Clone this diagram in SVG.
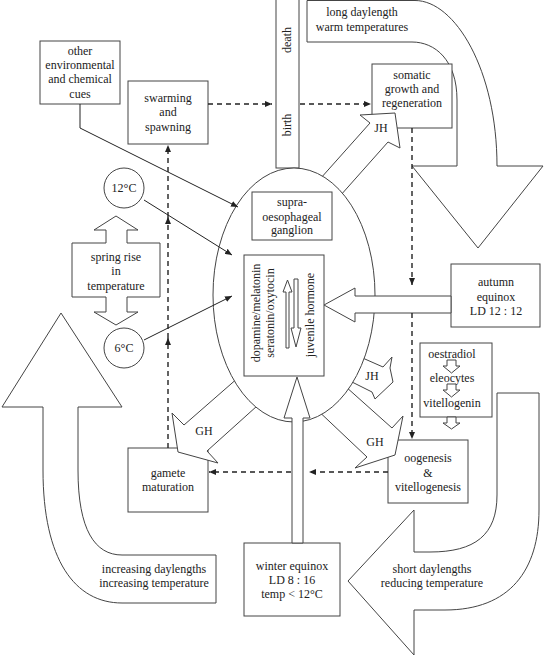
<svg xmlns="http://www.w3.org/2000/svg" width="544" height="656" viewBox="0 0 544 656">
<defs>
<style>
.s{fill:#fff;stroke:#444;stroke-width:1}
.t{font-family:"Liberation Serif","Times New Roman",serif;font-size:12px;fill:#222;text-anchor:middle}
.d{fill:none;stroke:#222;stroke-width:1.4;stroke-dasharray:5 4}
.l{fill:none;stroke:#222;stroke-width:1}
</style>
<marker id="ah" viewBox="0 0 7 6" refX="7" refY="3" markerWidth="7" markerHeight="6" markerUnits="userSpaceOnUse" orient="auto">
<path d="M0,0 L7,3 L0,6 z" fill="#222"/>
</marker>
</defs>
<rect width="544" height="656" fill="#fff"/>

<g id="season-long-daylength">
<path class="s" d="M307 0.5 L415 0.5 C455 0.5 497 70 497 166 L543 166 L478 248 L412 166 L457 166 L457 100 C457 60 435 42 412 42 L307 42 Z"/>
<text class="t" x="362" y="16">long daylength</text>
<text class="t" x="362" y="31">warm temperatures</text>
</g>
<g id="season-short-daylengths">
<path class="s" d="M497 393 L539 393 L539 510 C539 570 510 610 445 610 L414 610 L414 655 L348 581 L414 510 L414 552 L430 552 C475 552 497 535 497 495 Z"/>
<text class="t" x="432" y="573">short daylengths</text>
<text class="t" x="432" y="587">reducing temperature</text>
</g>
<g id="season-increasing-daylengths">
<path class="s" d="M61 313 L122 407 L78 407 L78 470 C78 530 95 555 122 555 L216 555 L216 603 L122 603 C75 603 43 560 43 470 L43 407 L2 407 Z"/>
<text class="t" x="154" y="573">increasing daylengths</text>
<text class="t" x="154" y="587">increasing temperature</text>
</g>

<g id="birth-death">
<rect class="s" x="276" y="-1" width="23" height="169"/>
<text class="t" transform="translate(291,40) rotate(-90)">death</text>
<text class="t" transform="translate(291,125) rotate(-90)">birth</text>
</g>

<g id="other-cues">
<rect class="s" x="40" y="41" width="80" height="63"/>
<text class="t" x="80" y="55">other</text>
<text class="t" x="80" y="69">environmental</text>
<text class="t" x="80" y="83">and chemical</text>
<text class="t" x="80" y="98">cues</text>
</g>
<g id="swarming">
<rect class="s" x="128" y="81" width="80" height="63"/>
<text class="t" x="168" y="102">swarming</text>
<text class="t" x="168" y="116">and</text>
<text class="t" x="168" y="131">spawning</text>
</g>
<g id="somatic">
<rect class="s" x="372" y="64" width="80" height="64"/>
<text class="t" x="412" y="79">somatic</text>
<text class="t" x="412" y="93">growth and</text>
<text class="t" x="412" y="107">regeneration</text>
</g>
<g id="temp-12">
<circle class="s" cx="124" cy="188" r="20"/>
<text class="t" x="124" y="192">12°C</text>
</g>
<g id="temp-6">
<circle class="s" cx="124" cy="348" r="20"/>
<text class="t" x="124" y="352">6°C</text>
</g>
<g id="spring-rise">
<polygon class="s" points="116,216 138,230 127,230 127,243 160,243 160,297 127,297 127,312 138,312 116,325 94,312 106,312 106,297 72,297 72,243 106,243 106,230 94,230"/>
<text class="t" x="116" y="261">spring rise</text>
<text class="t" x="116" y="275">in</text>
<text class="t" x="116" y="290">temperature</text>
</g>
<g id="autumn-equinox">
<rect class="s" x="451" y="264" width="89" height="63"/>
<text class="t" x="496" y="286">autumn</text>
<text class="t" x="496" y="301">equinox</text>
<text class="t" x="496" y="315">LD 12 : 12</text>
</g>
<g id="oestradiol">
<rect class="s" x="420" y="343" width="72" height="74"/>
<text class="t" x="452" y="358">oestradiol</text>
<polygon class="s" points="447,360 456,360 456,366 460,366 451.5,373 443,366 447,366"/>
<text class="t" x="452" y="382">eleocytes</text>
<polygon class="s" points="447,384 456,384 456,390 460,390 451.5,397 443,390 447,390"/>
<text class="t" x="452" y="407">vitellogenin</text>
<polygon class="s" points="447,417 456,417 456,423 460,423 451.5,429 443,423 447,423"/>
</g>
<g id="oogenesis">
<rect class="s" x="388" y="440" width="80" height="63"/>
<text class="t" x="428" y="462">oogenesis</text>
<text class="t" x="428" y="477">&amp;</text>
<text class="t" x="428" y="491">vitellogenesis</text>
</g>
<g id="gamete">
<rect class="s" x="128" y="448" width="80" height="64"/>
<text class="t" x="168" y="477">gamete</text>
<text class="t" x="168" y="491">maturation</text>
</g>
<g id="winter-equinox">
<rect class="s" x="244" y="543" width="96" height="73"/>
<text class="t" x="292" y="570">winter equinox</text>
<text class="t" x="292" y="584">LD 8 : 16</text>
<text class="t" x="292" y="598">temp &lt; 12°C</text>
</g>

<g id="jh-somatic">
<polygon class="s" points="312,188 370,123 360,115 395,113 400,148 388,142 332,205"/>
<text class="t" x="381" y="132">JH</text>
</g>
<g id="jh-lower">
<polygon class="s" points="349,352 383,367 392,357 390,368 393,382 375,399 372,392 336,374"/>
<text class="t" x="372" y="380">JH</text>
</g>
<g id="gh-oogenesis">
<polygon class="s" points="336,378 392,428 403,416 395,455 355,468 367,457 312,405"/>
<text class="t" x="375" y="446">GH</text>
</g>
<g id="gh-gamete">
<polygon class="s" points="247,370 184,425 172,413 178,452 218,463 207,451 267,397"/>
<text class="t" x="204" y="435">GH</text>
</g>

<g id="brain">
<ellipse class="s" cx="294" cy="295" rx="81" ry="127"/>
</g>
<g id="supra-oesophageal-ganglion">
<rect class="s" x="252" y="192" width="80" height="48"/>
<text class="t" x="292" y="206">supra-</text>
<text class="t" x="292" y="221">oesophageal</text>
<text class="t" x="292" y="234">ganglion</text>
</g>
<g id="hormones">
<rect class="s" x="244" y="255" width="80" height="121"/>
<text class="t" transform="translate(260,313) rotate(-90)">dopamine/melatonin</text>
<text class="t" transform="translate(274,313) rotate(-90)">seratonin/oxytocin</text>
<text class="t" transform="translate(314,315) rotate(-90)">juvenile hormone</text>
<polygon class="s" points="287.5,280 292,292 289,292 289,348 286,348 286,292 283,292"/>
<polygon class="s" points="294,279 298,279 298,328 301,328 296,347 291,328 294,328"/>
</g>
<g id="autumn-arrow">
<polygon class="s" points="451,296 355,296 355,288 324,305 355,322 355,313 451,313"/>
</g>
<g id="winter-arrow">
<polygon class="s" points="292,543 292,418 284,418 297,377 310,418 303,418 303,543"/>
</g>

<g id="connectors">
<path class="d" d="M208 104 H272" marker-end="url(#ah)"/>
<path class="d" d="M300 104 H371" marker-end="url(#ah)"/>
<path class="d" d="M412 128 V285" marker-end="url(#ah)"/>
<path class="d" d="M412 313 V439" marker-end="url(#ah)"/>
<path class="d" d="M388 472 H309" marker-end="url(#ah)"/>
<path class="d" d="M291 472 H209" marker-end="url(#ah)"/>
<path class="d" d="M168 448 V338" marker-end="url(#ah)"/>
<path class="d" d="M168 338 V217" marker-end="url(#ah)"/>
<path class="d" d="M168 217 V145" marker-end="url(#ah)"/>
<path class="l" d="M80 104 V128 L238 207" marker-end="url(#ah)"/>
<path class="l" d="M144 200 L232 255" marker-end="url(#ah)"/>
<path class="l" d="M144 340 L232 296" marker-end="url(#ah)"/>
</g>
</svg>
